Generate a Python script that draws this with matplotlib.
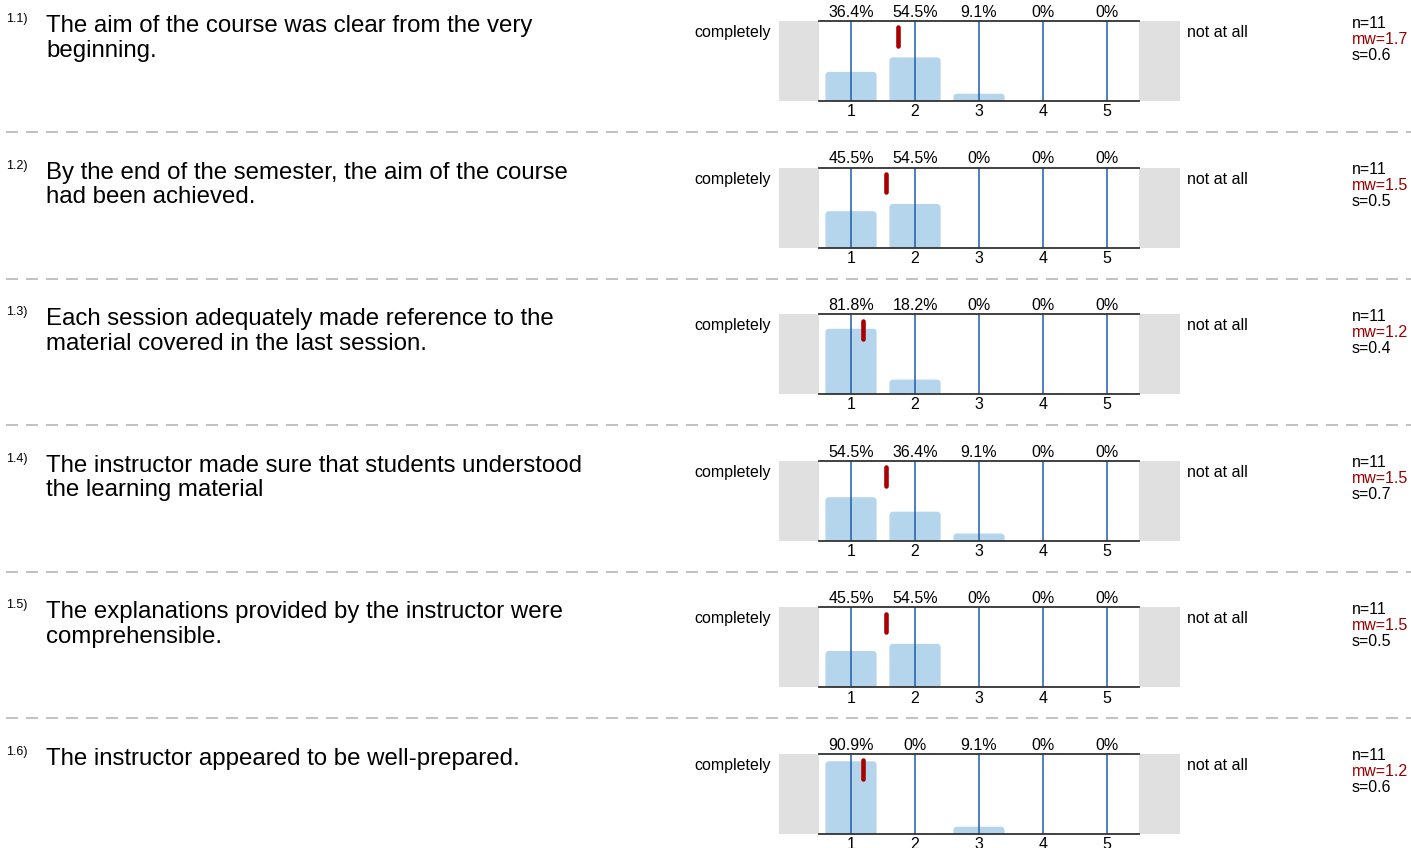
import matplotlib
matplotlib.use("Agg")
import matplotlib.pyplot as plt
from matplotlib.patches import FancyBboxPatch
from matplotlib.lines import Line2D

plt.rcParams['font.family'] = ['Liberation Sans', 'DejaVu Sans']
plt.rcParams['lines.scale_dashes'] = False

W, H = 1411, 848

numbers = ["1.1)", "1.2)", "1.3)", "1.4)", "1.5)", "1.6)"]
questions = [
    "The aim of the course was clear from the very\nbeginning.",
    "By the end of the semester, the aim of the course\nhad been achieved.",
    "Each session adequately made reference to the\nmaterial covered in the last session.",
    "The instructor made sure that students understood\nthe learning material",
    "The explanations provided by the instructor were\ncomprehensible.",
    "The instructor appeared to be well-prepared.",
]
pcts = [
    [36.4, 54.5, 9.1, 0, 0],
    [45.5, 54.5, 0, 0, 0],
    [81.8, 18.2, 0, 0, 0],
    [54.5, 36.4, 9.1, 0, 0],
    [45.5, 54.5, 0, 0, 0],
    [90.9, 0, 9.1, 0, 0],
]
means = [1.727, 1.545, 1.182, 1.545, 1.545, 1.182]
sds = [0.6, 0.5, 0.4, 0.7, 0.5, 0.6]
ns = [11, 11, 11, 11, 11, 11]
scale = [1, 2, 3, 4, 5]
left_label = "completely"
right_label = "not at all"

fig = plt.figure(figsize=(W / 100, H / 100), dpi=100)


def fx(x):
    return x / W


def fy(y):
    return 1 - y / H


ROW = 146.6
blue_line = '#1f5ea8'
bar_col = '#b4d5ec'
gray = '#e0e0e0'
red = '#a80000'
small = 11.5

for i in range(len(questions)):
    top = 21 + ROW * i
    # question text
    fig.text(fx(6), fy(top + 1), numbers[i], fontsize=9, va='baseline', ha='left')
    lines = questions[i].split("\n")
    for j, ln in enumerate(lines):
        fig.text(fx(46), fy(top + 11 + 24.5 * j), ln, fontsize=17.3, va='baseline', ha='left')

    # scale axes
    ax = fig.add_axes([fx(779), fy(top + 80), (1180 - 779) / W, 80 / H])
    ax.set_xlim(-0.125, 6.14)
    ax.set_ylim(0, 100)
    ax.axis('off')
    ax.axvspan(-0.125, 0.5, color=gray, lw=0)
    ax.axvspan(5.5, 6.14, color=gray, lw=0)

    for k, v in zip(scale, pcts[i]):
        if v > 0:
            b = FancyBboxPatch((k - 0.4, -10), 0.8, v + 10,
                               boxstyle="round,pad=0,rounding_size=0.06",
                               mutation_aspect=80, fc=bar_col, ec='none', zorder=1)
            ax.add_patch(b)
        ax.plot([k, k], [0, 100], color=blue_line, lw=1.1, zorder=2)
        ax.annotate(f"{v:g}%", xy=(k, 100), xytext=(0, 3), textcoords='offset points',
                    ha='center', va='baseline', fontsize=small, annotation_clip=False)
        ax.annotate(str(k), xy=(k, 0), xytext=(0, -11), textcoords='offset points',
                    ha='center', va='baseline', fontsize=small, annotation_clip=False)

    ax.plot([0.5, 5.5], [100, 100], color='#333333', lw=1.3, clip_on=False, zorder=3)
    ax.plot([0.5, 5.5], [0, 0], color='#333333', lw=1.3, clip_on=False, zorder=3)
    ax.plot([means[i], means[i]], [69, 92], color=red, lw=3.3, solid_capstyle='round', zorder=4)

    fig.text(fx(771), fy(top + 16), left_label, fontsize=small, ha='right', va='baseline')
    fig.text(fx(1187), fy(top + 16), right_label, fontsize=small, ha='left', va='baseline')

    fig.text(fx(1352), fy(top + 6.5), f"n={ns[i]}", fontsize=small, ha='left', va='baseline')
    fig.text(fx(1352), fy(top + 22.5), f"mw={means[i]:.1f}", fontsize=small, ha='left',
             va='baseline', color='#990000')
    fig.text(fx(1352), fy(top + 38.5), f"s={sds[i]:g}", fontsize=small, ha='left', va='baseline')

    if i < len(questions) - 1:
        ysep = fy(132 + ROW * i)
        fig.add_artist(Line2D([fx(6), 1.0], [ysep, ysep], color='#b0b0b0', lw=1.1,
                              dashes=(8.6, 5.8)))

fig.savefig("out.png", dpi=100)
